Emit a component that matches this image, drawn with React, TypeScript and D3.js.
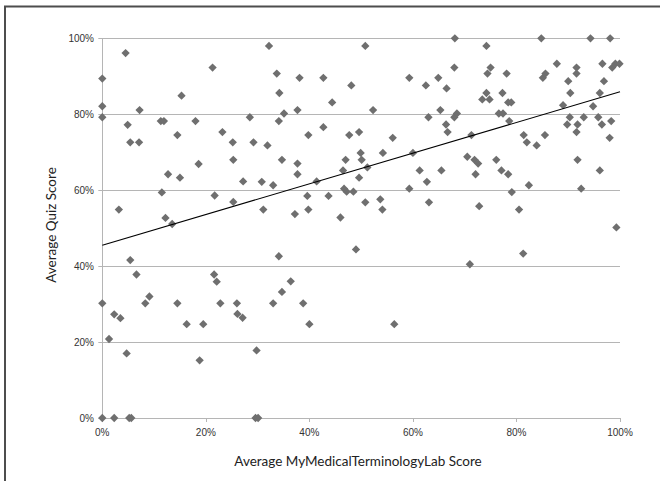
import React from "react";
import * as d3 from "d3";

// Average MyMedicalTerminologyLab Score (%)
const labScores: number[] = [
  0, 0, 0, 4.5, 4.9, 5.4, 7.1, 7.2, 3.2, 11.3, 11.9, 11.5, 12.2, 12.7, 13.5, 14.5, 15.0, 15.3, 18.0, 18.6,
  21.3, 21.7, 23.2, 25.2, 25.3, 25.3, 27.2, 28.5, 29.2, 30.8, 32.2, 33.7, 34.2, 35.1, 34.1, 31.9, 34.7, 33.0, 37.7, 38.1,
  37.7, 37.7, 39.8, 42.7, 42.7, 44.4, 41.4, 39.6, 43.7, 31.1, 37.2, 39.8, 46.0, 48.1, 47.7, 49.6, 47.0, 46.5, 49.9, 50.1,
  51.2, 49.6, 46.7, 47.2, 48.5, 50.8, 52.3, 50.8, 53.7, 54.1, 54.2, 56.1, 59.3, 62.5, 64.9, 66.5, 63.0, 65.3, 66.4, 66.7,
  60.0, 61.3, 62.7, 65.5, 59.3, 63.1, 68.1, 74.2, 84.8, 94.3, 98.1, 68.0, 68.0, 68.5, 74.4, 75.0, 78.1, 74.2, 73.4, 74.8,
  77.3, 78.4, 79.0, 76.6, 77.4, 78.6, 71.3, 70.5, 71.9, 72.6, 72.1, 76.1, 77.1, 78.4, 79.1, 82.4, 72.8, 80.5, 81.4, 82.0,
  83.9, 85.5, 85.1, 85.6, 87.8, 90.0, 91.6, 91.6, 90.4, 89.0, 90.3, 89.8, 91.8, 91.6, 93.0, 91.8, 92.5, 96.6, 96.9, 96.1,
  94.8, 95.8, 96.5, 98.3, 98.0, 96.1, 98.5, 99.1, 99.9, 99.3, 0, 0, 1.3, 2.3, 3.5, 4.7, 5.4, 6.6, 2.3, 5.2,
  5.6, 8.3, 9.1, 14.5, 16.3, 18.8, 19.5, 21.6, 22.1, 22.8, 26.0, 26.1, 27.1, 29.8, 29.6, 30.1, 34.1, 49.0, 36.4, 34.7,
  33.0, 38.8, 40.0, 56.4, 71.0, 81.3,
];

// Average Quiz Score (%)
const quizScores: number[] = [
  89.4, 82.1, 79.2, 96.1, 77.2, 72.6, 72.6, 81.1, 54.9, 78.2, 78.2, 59.4, 52.7, 64.2, 51.1, 74.5, 63.3, 84.9, 78.2, 66.9,
  92.3, 58.6, 75.3, 72.6, 68.0, 56.9, 62.3, 79.2, 72.6, 62.2, 98.0, 90.7, 85.6, 80.2, 78.2, 71.8, 68.0, 61.3, 81.1, 89.6,
  67.0, 64.2, 74.5, 89.6, 76.6, 83.1, 62.3, 58.5, 58.5, 54.9, 53.7, 54.9, 52.8, 87.6, 74.5, 75.3, 68.0, 65.2, 69.8, 68.0,
  66.0, 63.3, 60.4, 59.6, 59.6, 98.0, 81.1, 56.8, 57.6, 54.9, 69.8, 73.8, 89.6, 87.6, 89.6, 86.8, 79.2, 81.1, 77.3, 75.3,
  69.8, 65.2, 62.2, 65.2, 60.4, 56.8, 100, 98.0, 100, 100, 100, 92.3, 79.2, 80.2, 90.7, 92.3, 90.7, 85.6, 83.9, 83.9,
  85.6, 83.1, 83.1, 80.2, 80.2, 78.2, 74.5, 68.8, 68.0, 67.0, 64.2, 68.0, 65.2, 64.2, 59.5, 61.3, 55.8, 54.9, 74.5, 72.6,
  71.8, 74.5, 89.6, 90.7, 93.3, 88.7, 92.3, 90.7, 85.6, 82.4, 79.2, 77.3, 77.3, 75.3, 79.2, 68.0, 60.4, 93.3, 88.7, 85.6,
  82.1, 79.2, 77.3, 78.2, 73.8, 65.2, 92.3, 93.3, 93.3, 50.2, 30.2, 0, 20.8, 27.3, 26.3, 17.0, 41.6, 37.8, 0, 0,
  0, 30.2, 32.0, 30.2, 24.7, 15.2, 24.7, 37.8, 35.9, 30.2, 30.2, 27.4, 26.4, 17.8, 0, 0, 42.6, 44.4, 36.0, 33.2,
  30.2, 30.2, 24.7, 24.7, 40.5, 43.3,
];

// Linear trendline end points (x %, y %)
const trendX: number[] = [0, 100];
const trendY: number[] = [45.5, 85.9];

const xTicks: number[] = [0, 20, 40, 60, 80, 100];
const yTicks: number[] = [0, 20, 40, 60, 80, 100];

const xTitle = "Average MyMedicalTerminologyLab Score";
const yTitle = "Average Quiz Score";

export default function App() {
  const W = 660;
  const H = 481;
  const x = d3.scaleLinear().domain([0, 100]).range([102.3, 620]);
  const y = d3.scaleLinear().domain([0, 100]).range([418, 38.3]);
  const diamond = d3.symbol().type(d3.symbolDiamond2).size(44)();
  const trend = d3
    .line<number>()
    .x((_, i) => x(trendX[i]))
    .y((d) => y(d))(trendY);
  const grid = "#b5b5b5";
  const tickFont = "'Liberation Sans', Arial, sans-serif";
  const titleFont = "Lato, 'Open Sans', sans-serif";

  return (
    <svg
      width={W}
      height={H}
      style={{ position: "absolute", left: 0, top: 0, background: "#fff" }}
    >
      <rect x={0} y={0} width={W} height={H} fill="#fff" />
      <rect x={5} y={6.5} width={W + 40} height={H + 40} fill="none" stroke="#4d4d4d" strokeWidth={2} />

      {/* horizontal gridlines + y ticks */}
      {yTicks.map((t) => (
        <line key={"g" + t} x1={x(0) - 4} x2={x(100)} y1={Math.round(y(t)) + 0.5} y2={Math.round(y(t)) + 0.5} stroke={grid} strokeWidth={1} />
      ))}
      {/* y axis line */}
      <line x1={Math.round(x(0)) + 0.5} x2={Math.round(x(0)) + 0.5} y1={y(100)} y2={y(0)} stroke={grid} strokeWidth={1} />
      {/* x ticks */}
      {xTicks.map((t) => (
        <line key={"xt" + t} x1={Math.round(x(t)) + 0.5} x2={Math.round(x(t)) + 0.5} y1={y(0)} y2={y(0) + 4} stroke={grid} strokeWidth={1} />
      ))}

      {yTicks.map((t) => (
        <text key={"yl" + t} x={94} y={y(t)} dy="0.35em" textAnchor="end" fontFamily={tickFont} fontSize={10} fill="#333">
          {t + "%"}
        </text>
      ))}
      {xTicks.map((t) => (
        <text key={"xl" + t} x={x(t)} y={432} dy="0.35em" textAnchor="middle" fontFamily={tickFont} fontSize={10} fill="#333">
          {t + "%"}
        </text>
      ))}

      {/* points */}
      {labScores.map((lx, i) => (
        <path key={"p" + i} d={diamond} transform={`translate(${x(lx)},${y(quizScores[i])})`} fill="#6f6f6f" />
      ))}

      {/* trendline */}
      <path d={trend || ""} fill="none" stroke="#000" strokeWidth={1.1} />

      <text x={358} y={461} dy="0.35em" textAnchor="middle" fontFamily={titleFont} fontSize={13.5} fill="#222">
        {xTitle}
      </text>
      <text
        transform={`translate(51,225) rotate(-90)`}
        dy="0.35em"
        textAnchor="middle"
        fontFamily={titleFont}
        fontSize={13.5}
        fill="#222"
      >
        {yTitle}
      </text>
    </svg>
  );
}
